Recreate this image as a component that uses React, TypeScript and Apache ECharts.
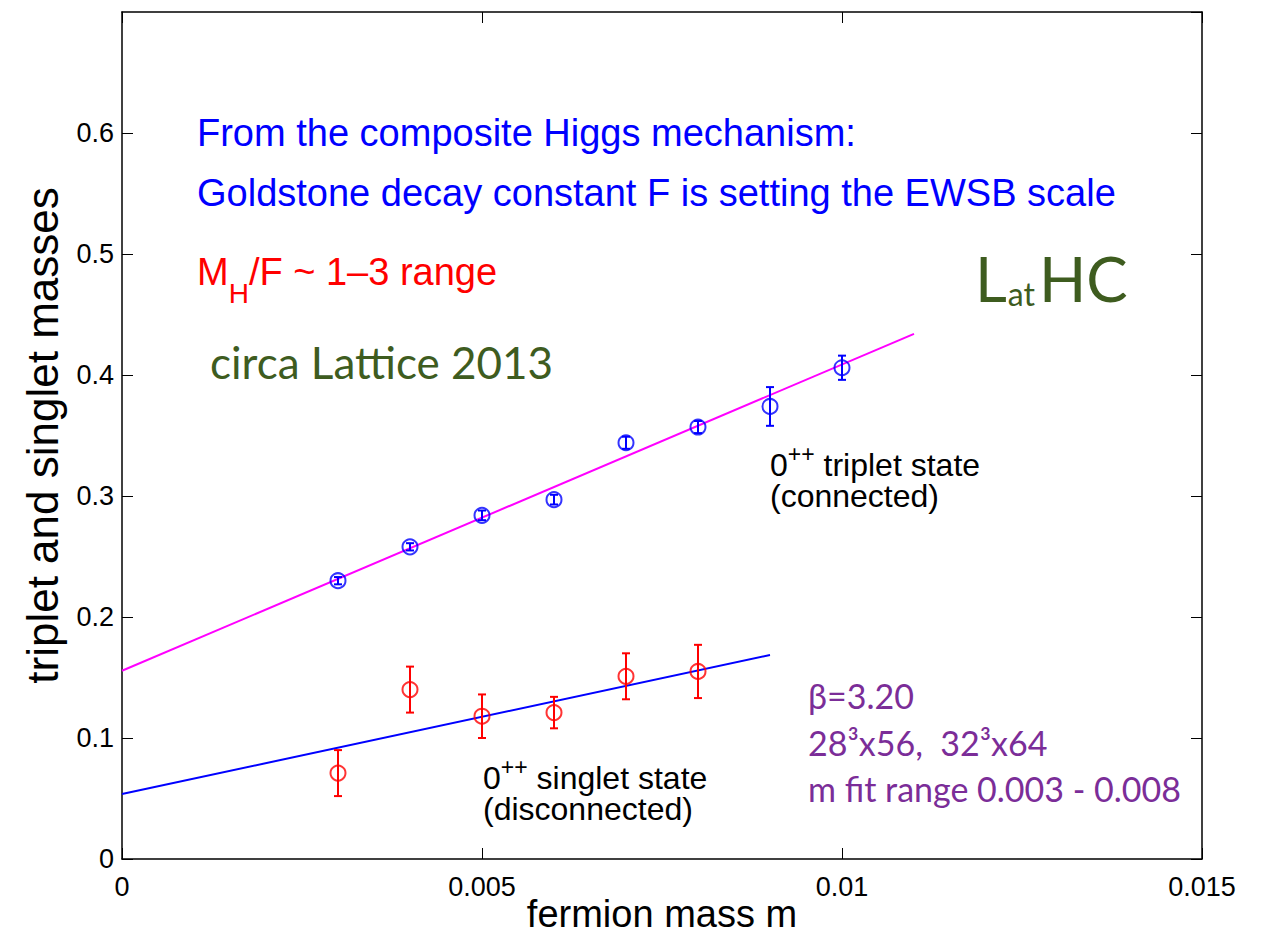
import React, { useEffect, useRef } from "react";
import * as echarts from "echarts";

// Fermion masses and measured 0++ masses (lattice units)
const tripletX = [0.003, 0.004, 0.005, 0.006, 0.007, 0.008, 0.009, 0.01];
const tripletMass = [0.23, 0.258, 0.284, 0.297, 0.344, 0.357, 0.374, 0.406];
const tripletErr = [0.003, 0.003, 0.004, 0.004, 0.005, 0.005, 0.016, 0.01];

const singletX = [0.003, 0.004, 0.005, 0.006, 0.007, 0.008];
const singletMass = [0.071, 0.14, 0.118, 0.121, 0.151, 0.155];
const singletErr = [0.019, 0.019, 0.018, 0.013, 0.019, 0.022];

// Linear fits: [m, mass] end points
const tripletFit = [
  [0, 0.1556],
  [0.011, 0.434],
];
const singletFit = [
  [0, 0.0537],
  [0.009, 0.1686],
];

const xTickValues = [0, 0.005, 0.01, 0.015];
const xTickLabels = ["0", "0.005", "0.01", "0.015"];
const yTickValues = [0, 0.1, 0.2, 0.3, 0.4, 0.5, 0.6];
const yTickLabels = ["0", "0.1", "0.2", "0.3", "0.4", "0.5", "0.6"];

const HELV = "'Liberation Sans', Arial, Helvetica, sans-serif";
const HUMAN = "Lato, 'Open Sans', sans-serif";
const BLUE = "#0000ff";
const RED = "#ff0000";
const MAGENTA = "#ff00ff";
const GREEN = "#3e5c1f";
const PURPLE = "#7b2d98";

function tickLabel(values: number[], labels: string[]) {
  return (v: number) => {
    const i = values.findIndex((t) => Math.abs(t - v) < 1e-9);
    return i >= 0 ? labels[i] : "";
  };
}

function errorSeries(xs: number[], ys: number[], errs: number[], color: string) {
  return {
    type: "custom",
    data: xs.map((x, i) => [x, ys[i] - errs[i], ys[i] + errs[i]]),
    encode: { x: 0, y: [1, 2] },
    z: 3,
    renderItem: (_params: any, api: any) => {
      const x = api.value(0);
      const lo = api.coord([x, api.value(1)]);
      const hi = api.coord([x, api.value(2)]);
      const w = 4;
      const st = { stroke: color, lineWidth: 2 };
      return {
        type: "group",
        children: [
          { type: "line", shape: { x1: lo[0], y1: lo[1], x2: hi[0], y2: hi[1] }, style: st },
          { type: "line", shape: { x1: lo[0] - w, y1: lo[1], x2: lo[0] + w, y2: lo[1] }, style: st },
          { type: "line", shape: { x1: hi[0] - w, y1: hi[1], x2: hi[0] + w, y2: hi[1] }, style: st },
        ],
      };
    },
  };
}

function markerSeries(xs: number[], ys: number[], color: string) {
  return {
    type: "scatter",
    data: xs.map((x, i) => [x, ys[i]]),
    symbol: "circle",
    symbolSize: 15,
    z: 4,
    itemStyle: { color: "rgba(0,0,0,0)", borderColor: color, borderWidth: 2 },
  };
}

function txt(x: number, y: number, text: string, fontSize: number, family: string, color: string, extra: any = {}) {
  return {
    type: "text",
    x,
    y,
    z: 10,
    style: {
      text,
      fontSize,
      fontFamily: family,
      fill: color,
      align: "left",
      verticalAlign: "middle",
      ...extra,
    },
  };
}

// Two-line state label whose first line carries a "++" superscript
const stateRich = {
  n: { fontSize: 32, fontFamily: HELV, color: "#000", lineHeight: 38, verticalAlign: "bottom" },
  s: { fontSize: 23, fontFamily: HELV, color: "#000", lineHeight: 23, verticalAlign: "top" },
  m: { fontSize: 32, fontFamily: HELV, color: "#000", lineHeight: 31 },
};

// "LatHC" with a lowered, smaller "at"
const logoRich = {
  L: { fontSize: 62, fontFamily: HUMAN, color: GREEN, lineHeight: 62, verticalAlign: "top" },
  a: { fontSize: 32, fontFamily: HUMAN, color: GREEN, lineHeight: 32, verticalAlign: "bottom", padding: [0, 4, 0, 1] },
};

// M_H with a lowered subscript H
const ratioRich = {
  n: { fontSize: 38, fontFamily: HELV, color: RED, lineHeight: 38, verticalAlign: "top" },
  h: { fontSize: 28, fontFamily: HELV, color: RED, lineHeight: 55, verticalAlign: "bottom" },
};

export default function App() {
  const ref = useRef<HTMLDivElement>(null);

  useEffect(() => {
    if (!ref.current) return;
    const chart = echarts.init(ref.current, undefined, { renderer: "svg" });

    const axisLine = { show: true, onZero: false, lineStyle: { color: "#000", width: 1.5 } };
    const axisTick = { show: true, inside: true, length: 11, lineStyle: { color: "#000", width: 1 } };

    chart.setOption({
      animation: false,
      backgroundColor: "#fff",
      grid: { left: 122, right: 64, top: 12, bottom: 78, outerBoundsMode: "none", containLabel: false },
      xAxis: [
        {
          type: "value",
          min: 0,
          max: 0.015,
          interval: 0.005,
          position: "bottom",
          axisLine,
          axisTick,
          splitLine: { show: false },
          axisLabel: {
            formatter: tickLabel(xTickValues, xTickLabels),
            fontSize: 27,
            fontFamily: HELV,
            color: "#000",
            margin: 14,
          },
          name: "fermion mass m",
          nameLocation: "middle",
          nameGap: 36,
          nameMoveOverlap: false,
          nameTextStyle: { fontSize: 38, fontFamily: HELV, color: "#000" },
        },
        {
          type: "value",
          min: 0,
          max: 0.015,
          interval: 0.005,
          position: "top",
          axisLine,
          axisTick,
          axisLabel: { show: false },
          splitLine: { show: false },
        },
      ],
      yAxis: [
        {
          type: "value",
          min: 0,
          max: 0.7,
          interval: 0.1,
          position: "left",
          axisLine,
          axisTick,
          splitLine: { show: false },
          axisLabel: {
            formatter: tickLabel(yTickValues, yTickLabels),
            showMaxLabel: false,
            fontSize: 27,
            fontFamily: HELV,
            color: "#000",
            margin: 8,
          },
          name: "triplet and singlet masses",
          nameLocation: "middle",
          nameGap: 58,
          nameMoveOverlap: false,
          nameTextStyle: { fontSize: 44, fontFamily: HELV, color: "#000" },
        },
        {
          type: "value",
          min: 0,
          max: 0.7,
          interval: 0.1,
          position: "right",
          axisLine,
          axisTick,
          axisLabel: { show: false },
          splitLine: { show: false },
        },
      ],
      series: [
        {
          type: "line",
          data: tripletFit,
          showSymbol: false,
          lineStyle: { color: MAGENTA, width: 2 },
          z: 2,
        },
        {
          type: "line",
          data: singletFit,
          showSymbol: false,
          lineStyle: { color: BLUE, width: 2 },
          z: 2,
        },
        errorSeries(tripletX, tripletMass, tripletErr, BLUE),
        markerSeries(tripletX, tripletMass, BLUE),
        errorSeries(singletX, singletMass, singletErr, RED),
        markerSeries(singletX, singletMass, RED),
      ],
      graphic: [
        txt(197, 133, "From the composite Higgs mechanism:", 38, HELV, BLUE),
        txt(197, 193, "Goldstone decay constant F is setting the EWSB scale", 38, HELV, BLUE),
        txt(197, 280, "{n|M}{h|H}{n|/F ~ 1\u20133 range}", 38, HELV, RED, { rich: ratioRich }),
        txt(210, 362, "circa Lattice 2013", 44, HUMAN, GREEN),
        txt(975, 278, "{L|L}{a|at}{L|HC}", 62, HUMAN, GREEN, { rich: logoRich }),
        txt(770, 477, "{n|0}{s|++}{n| triplet state}\n{m|(connected)}", 32, HELV, "#000", { rich: stateRich }),
        txt(483, 790, "{n|0}{s|++}{n| singlet state}\n{m|(disconnected)}", 32, HELV, "#000", { rich: stateRich }),
        txt(808, 695, "\u03b2=3.20", 34, HUMAN, PURPLE),
        txt(808, 742, "28\u00b3x56,  32\u00b3x64", 34, HUMAN, PURPLE),
        txt(808, 788, "m fit range 0.003 - 0.008", 34, HUMAN, PURPLE),
      ],
    });

    return () => chart.dispose();
  }, []);

  return (
    <div
      ref={ref}
      style={{ position: "absolute", left: 0, top: 0, width: 1266, height: 937, background: "#fff" }}
    />
  );
}
